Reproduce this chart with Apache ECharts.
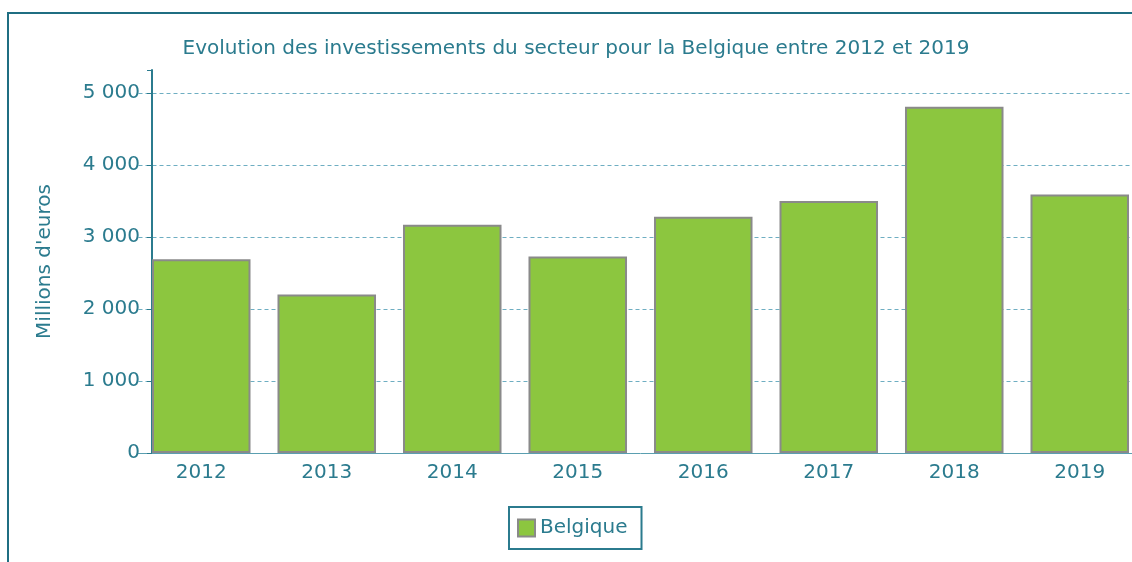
<!DOCTYPE html>
<html>
<head>
<meta charset="utf-8">
<script src="https://cdn.jsdelivr.net/npm/echarts@6/dist/echarts.min.js"></script>
<style>
  html, body { margin: 0; padding: 0; background: #fff; overflow: hidden; }
  /* un peu plus large que la fenetre: la derniere barre touche le bord */
  #container { width: 1160px; height: 562px; }
</style>
</head>
<body>
<div id="container"></div>
<script>
// donnees
var years = ['2012', '2013', '2014', '2015', '2016', '2017', '2018', '2019'];
var belgique = [2690, 2200, 3170, 2730, 3280, 3500, 4810, 3590];
var seriesName = 'Belgique';
var titleText = 'Evolution des investissements du secteur pour la Belgique entre 2012 et 2019';
var yName = "Millions d'euros";

var teal = '#2b7b8e';
var font = 'DejaVu Sans';

function fmt(v) {
    if (v % 1000 != 0) return '';
    // separateur de milliers avec espace
    return String(v).replace(/\B(?=(\d{3})+(?!\d))/g, ' ');
}

var myChart = echarts.init(document.getElementById('container'), null, { renderer: 'canvas' });

var option = {
    animation: false,
    backgroundColor: '#fff',
    graphic: [{
        type: 'rect',
        z: -1,
        shape: { x: 8, y: 13, width: 1300, height: 700 },
        style: { fill: 'none', stroke: '#1f6e82', lineWidth: 2 }
    }],
    title: {
        text: titleText,
        left: 571,
        textAlign: 'center',
        top: 34,
        textStyle: { color: teal, fontFamily: font, fontSize: 20, fontWeight: 'normal' }
    },
    legend: {
        data: [seriesName],
        left: 509,
        top: 507,
        icon: 'rect',
        itemWidth: 17,
        itemHeight: 17,
        padding: [11, 14, 11, 8],
        borderColor: teal,
        borderWidth: 2,
        textStyle: { color: teal, fontFamily: font, fontSize: 20 }
    },
    grid: {
        left: 138.5,
        right: 17.5,
        top: 70,
        bottom: 109,
        containLabel: false
    },
    xAxis: {
        type: 'category',
        data: years,
        axisLine: { lineStyle: { color: '#5a9fb0', width: 1 } },
        axisTick: { show: false },
        axisLabel: { color: teal, fontFamily: font, fontSize: 20, margin: 10 }
    },
    yAxis: {
        type: 'value',
        min: 0,
        max: 5320,
        interval: 1000,
        offset: -13.5,
        name: yName,
        nameLocation: 'middle',
        nameGap: 97,
        nameTextStyle: { color: teal, fontFamily: font, fontSize: 20 },
        axisLine: { show: true, lineStyle: { color: teal, width: 2 } },
        axisTick: { show: true, length: 5, lineStyle: { color: teal } },
        axisLabel: { color: teal, fontFamily: font, fontSize: 20, margin: 12, formatter: fmt },
        splitLine: { show: true, showMaxLine: false, lineStyle: { color: '#6eaec2', type: [4, 3], width: 1 } }
    },
    series: [{
        name: seriesName,
        type: 'bar',
        data: belgique,
        barCategoryGap: '21.5%',
        itemStyle: { color: '#8cc63f', borderColor: '#8a8a8a', borderWidth: 2 }
    }]
};

myChart.setOption(option);
</script>
</body>
</html>
